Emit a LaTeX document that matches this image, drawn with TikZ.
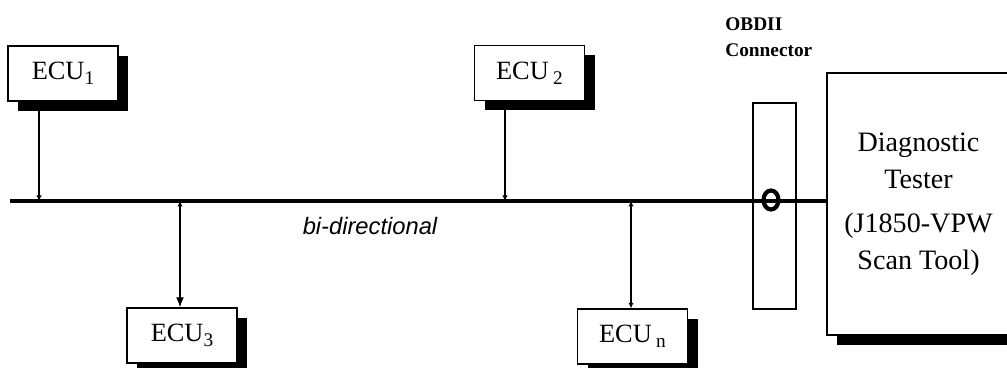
\documentclass[tikz,border=0pt]{standalone}
\usepackage{fontspec}
\setmainfont{Liberation Serif}
\newfontfamily\busfont{Liberation Sans}
\usetikzlibrary{arrows.meta,shadows,shapes.geometric}
\newcommand{\ecuidx}[1]{\raisebox{-0.45ex}{\fontsize{11}{11}\selectfont #1}}

\begin{document}
\begin{tikzpicture}[
    ecu/.style={draw, fill=white, line width=0.8pt, minimum width=2.2cm,
      minimum height=1.1cm, inner sep=0pt, font=\fontsize{15}{18}\selectfont,
      drop shadow={shadow xshift=0.2cm, shadow yshift=-0.2cm, fill=black, opacity=1}},
    link/.style={line width=0.8pt},
    tip/.tip={Latex[length=1.1mm,width=1.1mm]},
    bigtip/.tip={Latex[length=2mm,width=1.6mm]}
  ]
  \useasboundingbox (0,0) rectangle (20.14,7.36);

  \node[ecu] (ecu1) at (1.26,5.89) {ECU\ecuidx{1}};
  \node[ecu] (ecu2) at (10.59,5.9) {ECU\,\ecuidx{2}};
  \node[ecu] (ecu3) at (3.64,0.65) {ECU\ecuidx{3}};
  \node[ecu] (ecun) at (12.65,0.63) {ECU\,\ecuidx{n}};

  \node[draw, line width=0.8pt, fill=white, minimum width=3.66cm, minimum height=5.24cm,
    align=center, font=\fontsize{16}{21}\selectfont,
    drop shadow={shadow xshift=0.2cm, shadow yshift=-0.2cm, fill=black, opacity=1}]
    (tester) at (18.37,3.28) {Diagnostic\\Tester\\[4pt](J1850-VPW\\Scan Tool)};
  \node[draw, line width=0.6pt, minimum width=0.86cm, minimum height=4.12cm] (obd) at (15.49,3.24) {};
  \node[anchor=west, align=left, inner sep=0pt, font=\fontsize{11}{14.7}\selectfont\bfseries]
    (obdlabel) at (14.5,6.62) {OBDII\\Connector};

  \coordinate (busstart) at (0.2,3.34);
  \coordinate (t1) at (0.78,3.34);
  \coordinate (t2) at (10.1,3.34);
  \coordinate (t3) at (3.6,3.34);
  \coordinate (tn) at (12.62,3.34);

  \draw[line width=2.3pt] (busstart) -- (busstart -| tester.west);
  \node[draw, ellipse, line width=2.4pt, minimum width=0.3cm, minimum height=0.38cm, inner sep=0pt]
    (plug) at (15.42,3.36) {};
  \node[font=\busfont\itshape\fontsize{13.5}{16}\selectfont] (busname) at (7.4,2.84) {bi-directional};

  \draw[link, -tip] (t1 |- ecu1.south) -- (t1);
  \draw[link, -tip] (t2 |- ecu2.south) -- (t2);
  \draw[link, tip-bigtip] (t3) -- (t3 |- ecu3.north);
  \draw[link, tip-tip] (tn) -- (tn |- ecun.north);
\end{tikzpicture}
\end{document}
